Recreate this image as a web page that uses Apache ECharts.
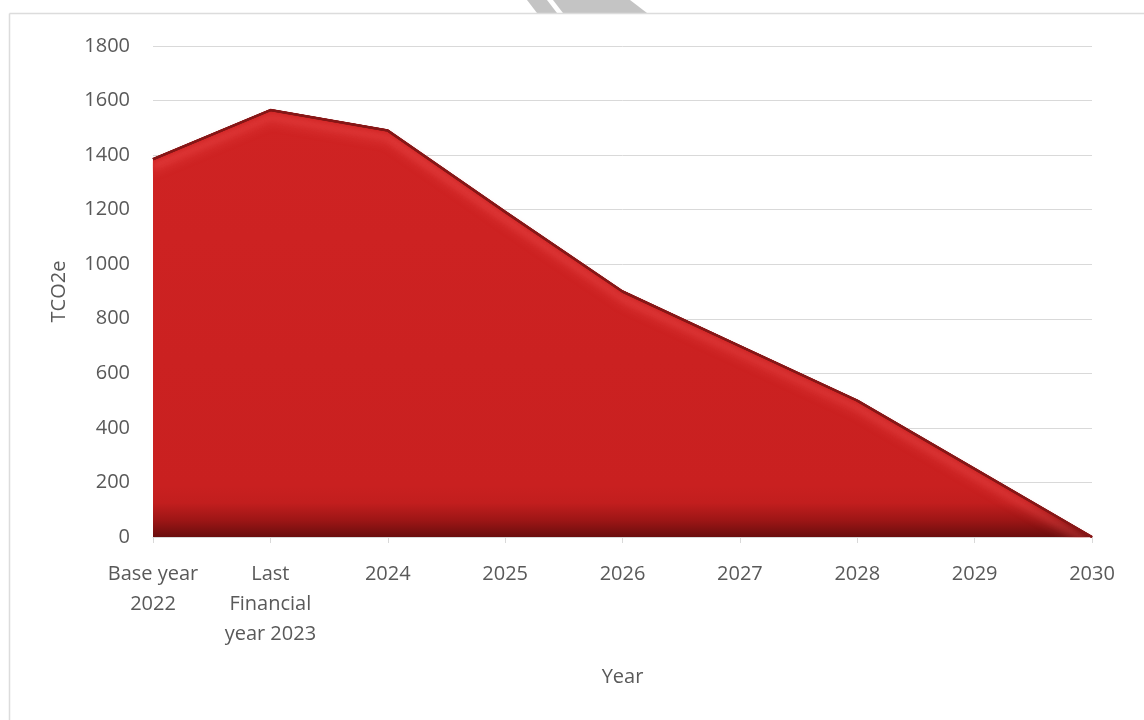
<!DOCTYPE html>
<html>
<head>
<meta charset="utf-8">
<script src="https://cdn.jsdelivr.net/npm/echarts@6/dist/echarts.min.js"></script>
<style>
  html, body { margin: 0; padding: 0; background: #ffffff; }
  #chart { width: 1144px; height: 720px; }
</style>
</head>
<body>
<div id="chart"></div>
<script>
const categories = ['Base year\n2022', 'Last\nFinancial\nyear 2023', '2024', '2025', '2026', '2027', '2028', '2029', '2030'];
const emissions = [1385, 1565, 1490, 1192, 900, 700, 500, 250, 0];
const yTicks = { min: 0, max: 1800, interval: 200 };

const textColor = '#595959';
const font = '"Open Sans", "Liberation Sans", sans-serif';

function bevelLine(offset, blur, alpha) {
  return {
    type: 'line',
    data: emissions,
    symbol: 'none',
    silent: true,
    z: 3,
    lineStyle: {
      color: '#8a1717',
      width: 2,
      shadowColor: 'rgba(250,90,90,' + alpha + ')',
      shadowBlur: blur,
      shadowOffsetY: offset
    }
  };
}

const chart = echarts.init(document.getElementById('chart'));
chart.setOption({
  backgroundColor: '#ffffff',
  animation: false,
  grid: { left: 153, right: 52, top: 46, bottom: 183, containLabel: false },
  xAxis: {
    type: 'category',
    data: categories,
    boundaryGap: false,
    name: 'Year',
    nameLocation: 'middle',
    nameGap: 130,
    nameTextStyle: { color: textColor, fontSize: 20, fontFamily: font },
    axisLine: { show: true, lineStyle: { color: '#d9d9d9', width: 1 } },
    axisTick: { show: true, alignWithLabel: true, length: 6, lineStyle: { color: '#d9d9d9' } },
    axisLabel: { color: textColor, fontSize: 20, fontFamily: font, lineHeight: 30, margin: 22, interval: 0 },
    splitLine: { show: false }
  },
  yAxis: {
    type: 'value',
    min: yTicks.min,
    max: yTicks.max,
    interval: yTicks.interval,
    name: 'TCO2e',
    nameLocation: 'middle',
    nameGap: 84,
    nameRotate: 90,
    nameTextStyle: { color: textColor, fontSize: 20, fontFamily: font },
    axisLine: { show: false },
    axisTick: { show: false },
    axisLabel: { color: textColor, fontSize: 20, fontFamily: font, margin: 23, formatter: v => String(v) },
    splitLine: { show: true, lineStyle: { color: '#d9d9d9', width: 1 } }
  },
  graphic: [
    { type: 'line', shape: { x1: 9.5, y1: 13.5, x2: 1144, y2: 13.5 }, style: { stroke: '#dcdcdc', lineWidth: 1.5 }, z: 10 },
    { type: 'line', shape: { x1: 9.5, y1: 13.5, x2: 9.5, y2: 720 }, style: { stroke: '#dcdcdc', lineWidth: 1.5 }, z: 10 },
    { type: 'polygon', shape: { points: [[527, 0], [547, 0], [557, 13], [537, 13]] }, style: { fill: '#c4c4c4' }, z: 5 },
    { type: 'polygon', shape: { points: [[553, 0], [630, 0], [647, 13], [563, 13]] }, style: { fill: '#c4c4c4' }, z: 5 }
  ],
  series: [{
    type: 'line',
    data: emissions,
    symbol: 'none',
    z: 2,
    lineStyle: { color: '#8a1717', width: 2 },
    areaStyle: {
      opacity: 1,
      color: {
        type: 'linear', x: 0, y: 0, x2: 0, y2: 1,
        colorStops: [
          { offset: 0, color: '#cf2323' },
          { offset: 0.88, color: '#c92020' },
          { offset: 0.92, color: '#c21e1e' },
          { offset: 0.96, color: '#9e1616' },
          { offset: 1, color: '#6a0d0d' }
        ]
      }
    }
  },
  bevelLine(6, 6, 0.9),
  bevelLine(11, 8, 0.8),
  {
    type: 'line',
    data: emissions,
    symbol: 'none',
    silent: true,
    z: 4,
    lineStyle: { color: '#861616', width: 2.5 }
  }]
});
</script>
</body>
</html>
